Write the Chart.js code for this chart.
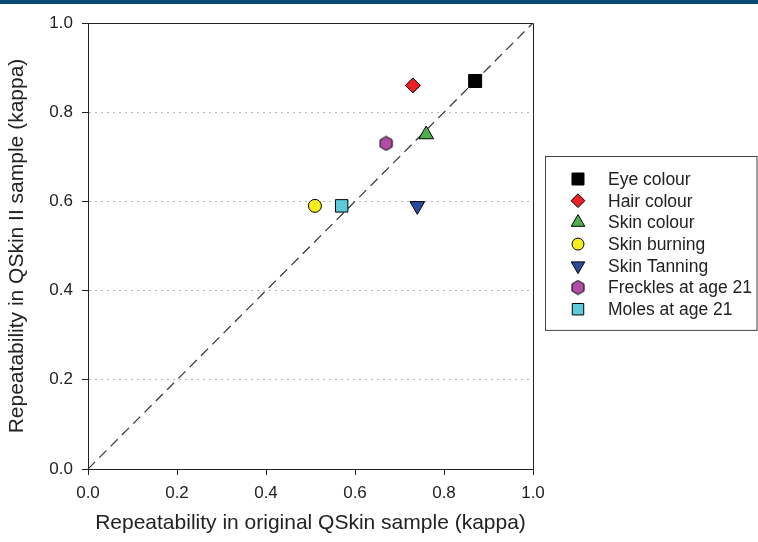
<!DOCTYPE html>
<html>
<head>
<meta charset="utf-8">
<script src="https://cdn.jsdelivr.net/npm/chart.js@4.4.1/dist/chart.umd.min.js"></script>
<style>
    html, body { margin: 0; padding: 0; background: #ffffff; }
    #wrap { position: relative; width: 758px; height: 542px; }
    #band { position: absolute; left: 0; top: 0; width: 758px; height: 4px; background: #0b4a73; }
</style>
</head>
<body>
<div id="wrap">
    <canvas id="kappaChart" width="758" height="542"></canvas>
    <div id="band"></div>
</div>
<script>
// Données
const seriesNames = ['Eye colour', 'Hair colour', 'Skin colour', 'Skin burning', 'Skin Tanning', 'Freckles at age 21', 'Moles at age 21'];
const originalKappa = [0.87, 0.73, 0.76, 0.51, 0.74, 0.67, 0.57];
const qskin2Kappa = [0.87, 0.86, 0.75, 0.59, 0.59, 0.73, 0.59];
const markerColors = ['#000000', '#ec1f26', '#4fb04a', '#f4ee1c', '#2d4b9c', '#b04ea6', '#5ccad8'];
const markerStyles = ['rect', 'rectRot', 'triangle', 'circle', 'triangle', 'hexagon', 'rect'];
const markerRotation = [0, 0, 0, 0, 180, 0, 0];
const markerRadius = [9.2, 7.5, 8.5, 6.5, 8.5, 7, 8.8];
const tickValues = [0, 0.2, 0.4, 0.6, 0.8, 1.0];
const identityX = [0, 1];
const identityY = [0, 1];

const fontFamily = "'Liberation Sans', Arial, sans-serif";
const textColor = '#222222';

// Hexagone (pas de style natif dans Chart.js)
function makeHexagon(color, r) {
    const size = Math.ceil(r * 2 + 2);
    const c = document.createElement('canvas');
    c.width = size;
    c.height = size;
    const g = c.getContext('2d');
    g.beginPath();
    for (let i = 0; i < 6; i++) {
        const a = Math.PI / 3 * i - Math.PI / 2;
        const px = size / 2 + Math.cos(a) * r;
        const py = size / 2 + Math.sin(a) * r;
        if (i === 0) g.moveTo(px, py); else g.lineTo(px, py);
    }
    g.closePath();
    g.fillStyle = color;
    g.fill();
    g.lineWidth = 1;
    g.strokeStyle = '#000000';
    g.stroke();
    return c;
}

const pointStyles = markerStyles.map((s, i) => s === 'hexagon' ? makeHexagon(markerColors[i], markerRadius[i]) : s);

const scatterSets = seriesNames.map((name, i) => ({
    type: 'scatter',
    label: name,
    data: [{ x: originalKappa[i], y: qskin2Kappa[i] }],
    pointStyle: pointStyles[i],
    rotation: markerRotation[i],
    pointRadius: markerRadius[i],
    pointBackgroundColor: markerColors[i],
    pointBorderColor: '#000000',
    pointBorderWidth: 1,
    order: 0
}));

const identitySet = {
    type: 'line',
    label: 'identity',
    data: identityX.map((v, i) => ({ x: v, y: identityY[i] })),
    borderColor: '#333333',
    borderWidth: 1.2,
    borderDash: [10, 6],
    pointRadius: 0,
    fill: false,
    order: 10
};

// Cadre haut / droite du graphique
const frameBox = {
    id: 'frameBox',
    afterDatasetsDraw(chart) {
        const { ctx, chartArea } = chart;
        ctx.save();
        ctx.strokeStyle = textColor;
        ctx.lineWidth = 1;
        ctx.beginPath();
        ctx.moveTo(chartArea.left, chartArea.top + 0.5);
        ctx.lineTo(chartArea.right + 0.5, chartArea.top + 0.5);
        ctx.lineTo(chartArea.right + 0.5, chartArea.bottom);
        ctx.stroke();
        ctx.restore();
    }
};

// Légende encadrée à droite
const boxedLegend = {
    id: 'boxedLegend',
    afterDraw(chart) {
        const { ctx, chartArea } = chart;
        const rowH = 21.7;
        const left = chartArea.right + 12;
        const right = chart.width - 1.5;
        const top = chartArea.top + 133;
        const bottom = top + rowH * 7 + 22;
        ctx.save();
        ctx.strokeStyle = '#444444';
        ctx.lineWidth = 1;
        ctx.strokeRect(Math.round(left) + 0.5, Math.round(top) + 0.5, right - left, bottom - top);
        ctx.font = '17.5px ' + fontFamily;
        ctx.textBaseline = 'middle';
        ctx.textAlign = 'left';
        seriesNames.forEach((name, i) => {
            const y = top + 23 + i * rowH;
            ctx.fillStyle = markerColors[i];
            ctx.strokeStyle = '#000000';
            ctx.lineWidth = 1;
            Chart.helpers.drawPoint(ctx, {
                pointStyle: pointStyles[i],
                rotation: markerRotation[i],
                radius: markerRadius[i] * 0.92,
                borderWidth: 1
            }, left + 33, y);
            ctx.fillStyle = textColor;
            ctx.fillText(name, left + 63, y + 1);
        });
        ctx.restore();
    }
};

new Chart(document.getElementById('kappaChart'), {
    data: { datasets: [identitySet].concat(scatterSets) },
    options: {
        responsive: false,
        animation: false,
        layout: { padding: { top: 23, right: 225, bottom: 0, left: 0 } },
        plugins: {
            legend: { display: false },
            tooltip: { enabled: false }
        },
        scales: {
            x: {
                type: 'linear',
                min: 0,
                max: 1,
                afterBuildTicks: (scale) => { scale.ticks = tickValues.map(v => ({ value: v })); },
                afterFit: (scale) => { scale.height = 73; },
                ticks: {
                    padding: 8,
                    color: textColor,
                    font: { family: fontFamily, size: 17 },
                    callback: (v) => Number(v).toFixed(1)
                },
                grid: { drawOnChartArea: false, tickLength: 6, tickColor: textColor },
                border: { display: true, color: textColor, width: 1 },
                title: {
                    display: true,
                    text: 'Repeatability in original QSkin sample (kappa)',
                    color: textColor,
                    font: { family: fontFamily, size: 21 },
                    padding: { top: 0, bottom: 6 }
                }
            },
            y: {
                type: 'linear',
                min: 0,
                max: 1,
                afterBuildTicks: (scale) => { scale.ticks = tickValues.map(v => ({ value: v })); },
                afterFit: (scale) => { scale.width = 88; },
                ticks: {
                    padding: 9,
                    color: textColor,
                    font: { family: fontFamily, size: 17 },
                    callback: (v) => Number(v).toFixed(1)
                },
                grid: {
                    color: (c) => (c.tick && (c.tick.value === 0 || c.tick.value === 1)) ? 'rgba(0,0,0,0)' : '#b4b4b4',
                    lineWidth: 1,
                    tickLength: 6,
                    tickColor: textColor,
                    tickBorderDash: []
                },
                border: { display: true, color: textColor, width: 1, dash: [2, 4] },
                title: {
                    display: true,
                    text: 'Repeatability in QSkin II sample (kappa)',
                    color: textColor,
                    font: { family: fontFamily, size: 21 },
                    padding: { top: 5, bottom: 0 }
                }
            }
        }
    },
    plugins: [frameBox, boxedLegend]
});
</script>
</body>
</html>
